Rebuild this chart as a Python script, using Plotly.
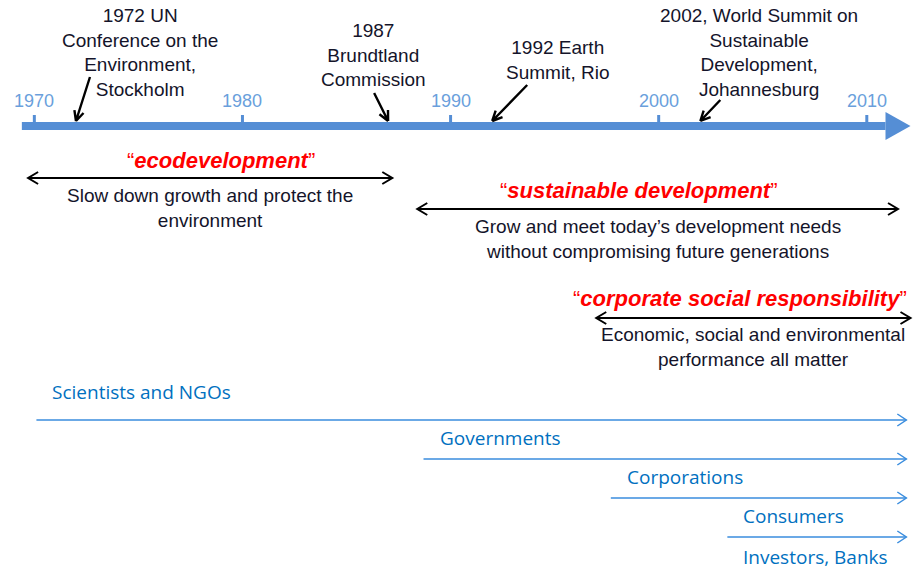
import math
import plotly.graph_objects as go

# timeline data (years)
tick_years = [1970, 1980, 1990, 2000, 2010]

event_years = [1972, 1987, 1992, 2002]
event_labels = [
    "1972 UN<br>Conference on the<br>Environment,<br>Stockholm",
    "1987<br>Brundtland<br>Commission",
    "1992 Earth<br>Summit, Rio",
    "2002, World Summit on<br>Sustainable<br>Development,<br>Johannesburg",
]

concept_names = ["ecodevelopment", "sustainable development", "corporate social responsibility"]
concept_start = [1969.7, 1988.4, 1997.0]
concept_end = [1987.2, 2011.5, 2012.1]
concept_desc = [
    "Slow down growth and protect the<br>environment",
    "Grow and meet today’s development needs<br>without compromising future generations",
    "Economic, social and environmental<br>performance all matter",
]

actor_names = ["Scientists and NGOs", "Governments", "Corporations", "Consumers", "Investors, Banks"]
actor_start = [1970.1, 1988.7, 1997.7, 2003.3, 2003.3]
actor_end = [2011.9, 2011.9, 2011.9, 2011.9, 2011.9]

timeline_start = 1969.4
timeline_end = 2012.1

# canvas / scale
W, H = 913, 566
X0, X1 = 1968.35, 2012.22
PX = W / (X1 - X0)  # pixels per year

BLUE_BAR = "#558ED5"
BLUE_TXT = "#0070C0"
BLUE_LINE = "#3A8DDE"
DARK = "#14142a"
FONT = "Liberation Sans, Arial, sans-serif"


def yrs(px):
    return px / PX


def chevron(xt, y, direction, length=10, half=6):
    d = 1 if direction == "right" else -1
    xb = xt - d * yrs(length)
    return f"M {xb},{y - half} L {xt},{y} L {xb},{y + half}"


def pointer(x_tip, y_tip, dx, dy, head=11, spread=0.45):
    # straight arrow from tail offset (dx, dy) in pixels to the tip, open V head
    ang = math.atan2(-dy, -dx)
    path = f"M {x_tip + yrs(dx)},{y_tip + dy} L {x_tip},{y_tip}"
    for s in (-spread, spread):
        hx = -head * math.cos(ang + s)
        hy = -head * math.sin(ang + s)
        path += f" M {x_tip + yrs(hx)},{y_tip + hy} L {x_tip},{y_tip}"
    return path


fig = go.Figure()
shapes = []
annotations = []

# timeline bar + head
bar_y = 126
head_base = timeline_end - yrs(25)
shapes.append(dict(type="rect", x0=timeline_start, x1=head_base, y0=bar_y - 4, y1=bar_y + 4,
                   fillcolor=BLUE_BAR, line=dict(width=0)))
shapes.append(dict(type="path",
                   path=f"M {head_base},{bar_y - 14} L {timeline_end},{bar_y} L {head_base},{bar_y + 14} Z",
                   fillcolor=BLUE_BAR, line=dict(width=0)))
for yr in tick_years:
    shapes.append(dict(type="line", x0=yr, x1=yr, y0=bar_y - 11, y1=bar_y - 3,
                       line=dict(color=BLUE_BAR, width=3)))
    annotations.append(dict(x=yr, y=101, text=str(yr), showarrow=False,
                            font=dict(family=FONT, size=18, color="#6A9FDC")))

# events
event_text_pos = [(140, 52), (373, 55), (557, 60), (759, 52)]
event_arrow_off = [(14, -44), (-14, -28), (35, -36), (20, -21)]
for yr, lab, (tx, ty), (dx, dy) in zip(event_years, event_labels, event_text_pos, event_arrow_off):
    annotations.append(dict(xref="paper", x=tx / W, y=ty, text=lab, showarrow=False,
                            xanchor="center", yanchor="middle",
                            font=dict(family=FONT, size=19, color=DARK)))
    shapes.append(dict(type="path", path=pointer(yr, bar_y - 5, dx, dy),
                       line=dict(color="black", width=2.4)))

# concepts
concept_rows = [(160, 178, 208), (190, 209, 239), (298, 318, 347)]
title_dx = [11, -19, -13]
for name, x0, x1, desc, (ty, ay_, dy), dx in zip(concept_names, concept_start, concept_end,
                                                 concept_desc, concept_rows, title_dx):
    mid = (x0 + x1) / 2
    annotations.append(dict(x=mid + yrs(dx), y=ty, text=f"“<b><i>{name}</i></b>”", showarrow=False,
                            xanchor="center", yanchor="middle",
                            font=dict(family=FONT, size=22, color="#FF0000")))
    shapes.append(dict(type="line", x0=x0, x1=x1, y0=ay_, y1=ay_,
                       line=dict(color="black", width=2)))
    shapes.append(dict(type="path", path=chevron(x1, ay_, "right"),
                       line=dict(color="black", width=2)))
    shapes.append(dict(type="path", path=chevron(x0, ay_, "left"),
                       line=dict(color="black", width=2)))
    annotations.append(dict(x=mid, y=dy, text=desc, showarrow=False,
                            xanchor="center", yanchor="middle",
                            font=dict(family=FONT, size=19, color=DARK)))

# actors
actor_rows = [(392, 420), (438, 459), (477, 498), (516, 537), (557, 578)]
for name, x0, x1, (ty, ly) in zip(actor_names, actor_start, actor_end, actor_rows):
    annotations.append(dict(x=x0 + yrs(14), y=ty, text=name, showarrow=False,
                            xanchor="left", yanchor="middle",
                            font=dict(family="Open Sans, sans-serif", size=19, color=BLUE_TXT)))
    shapes.append(dict(type="line", x0=x0, x1=x1, y0=ly, y1=ly,
                       line=dict(color=BLUE_LINE, width=1.5)))
    shapes.append(dict(type="path", path=chevron(x1, ly, "right", 9, 6),
                       line=dict(color=BLUE_LINE, width=1.5)))

fig.update_layout(
    width=W, height=H,
    margin=dict(l=0, r=0, t=0, b=0),
    paper_bgcolor="white", plot_bgcolor="white",
    xaxis=dict(range=[X0, X1], visible=False),
    yaxis=dict(range=[H, 0], visible=False),
    shapes=shapes,
    annotations=annotations,
    showlegend=False,
)

fig.write_html("out.html", config={"displayModeBar": False},
               post_script="document.body.style.margin='0';")
